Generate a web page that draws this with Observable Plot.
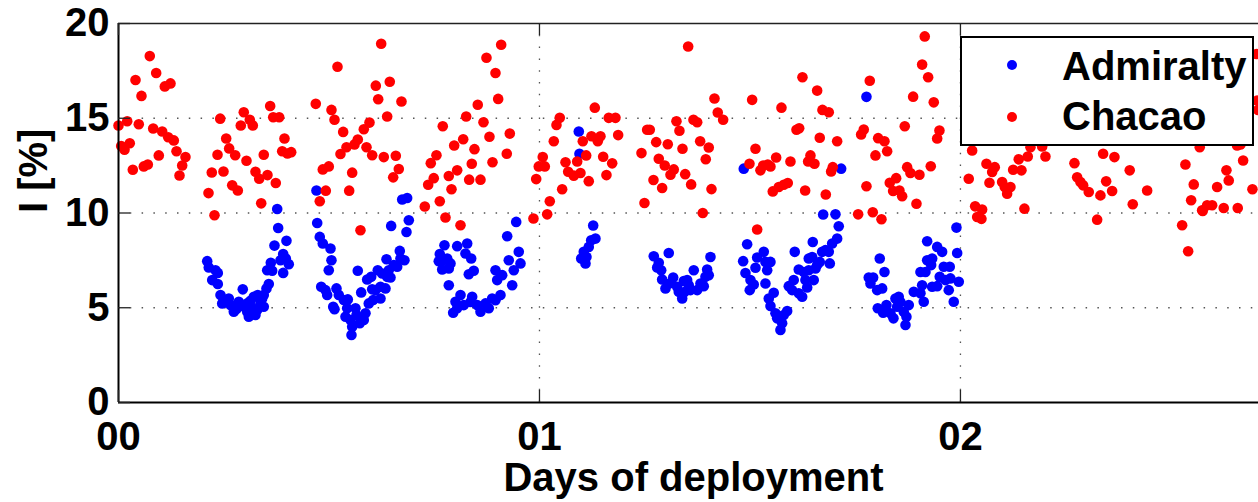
<!DOCTYPE html>
<html>
<head>
<meta charset="utf-8">
<script src="https://cdn.jsdelivr.net/npm/d3@7"></script>
<script src="https://cdn.jsdelivr.net/npm/@observablehq/plot@0.6"></script>
<style>
  html, body { margin: 0; padding: 0; background: #fff; }
  #wrap { position: relative; width: 1258px; height: 502px; overflow: hidden; }
  .legend {
    position: absolute; left: 960px; top: 36px; width: 294px; height: 110px;
    box-sizing: border-box; border: 2px solid #000; background: #fff;
    font-family: "Liberation Sans", Arial, Helvetica, sans-serif; font-weight: bold; font-size: 40px; color: #000;
  }
  .legend .mk { position: absolute; left: 45px; width: 10px; height: 10px; border-radius: 50%; }
  .legend .lb { position: absolute; left: 100px; height: 40px; line-height: 40px; white-space: nowrap; }
</style>
</head>
<body>
<div id="wrap"></div>
<script>
// Intensity I [%] per station against days of deployment
const admiraltyDay = [
  0.377,0.3793,0.399,0.3705,0.3912,0.3974,0.4045,0.3848,0.3912,0.3618,0.3651,0.3532,0.357,0.3515,0.3451,
  0.2107,0.2145,0.2304,0.2359,0.2226,0.2359,0.2423,0.2463,0.262,0.266,0.2739,0.2952,0.2857,0.2938,0.3057,
  0.3135,0.3214,0.3309,0.3413,0.3373,0.3057,0.3095,0.3254,0.3295,0.3451,0.2542,0.2803,0.3183,
  0.4703,0.472,0.4781,0.4853,0.5036,0.5059,0.4995,0.4815,0.4917,0.4957,0.5178,0.5233,0.51,0.5131,0.5352,
  0.5447,0.5432,0.5392,0.5511,0.5551,0.5534,0.5629,0.5732,0.5827,0.5867,0.5653,0.5684,0.5765,0.5907,0.6002,
  0.6026,0.6105,0.6223,0.6159,0.6264,0.6342,0.5945,0.605,0.6223,0.6382,0.6461,0.642,0.6366,0.6539,0.662,
  0.6682,0.6698,0.6793,0.6477,0.6841,0.6896,0.6739,0.6857,
  0.7743,0.7632,0.7608,0.7713,0.7808,0.7886,0.7846,0.7689,0.8045,0.8283,0.8242,0.8378,0.8439,0.8321,
  0.7846,0.8124,0.8005,0.8045,0.795,0.8202,0.8401,0.852,0.8599,0.8717,0.8796,0.8876,0.8955,0.9074,0.8995,
  0.9114,0.9271,0.939,0.9508,0.9549,0.9352,0.9233,0.9447,0.8361,0.8955,
  1.0934,1.095,1.1276,1.133,1.1228,1.1171,1.1052,1.1116,1.0991,1.1093,
  1.2715,1.2834,1.2796,1.2891,1.2914,1.2993,1.3071,1.3176,1.3271,1.339,1.3428,1.3546,1.3665,1.3746,1.3824,
  1.3903,1.3943,1.3983,1.4021,1.4062,1.3508,1.3309,1.3587,1.3112,1.3444,
  1.4853,1.4933,1.4838,1.4893,1.5012,1.4995,1.509,1.5171,1.5131,1.5328,1.5368,1.5487,1.5409,1.5368,1.5565,
  1.5447,1.5487,1.5606,1.5646,1.5724,1.5765,1.5884,1.5803,1.5922,1.604,1.6002,1.6159,1.624,1.6359,1.6318,
  1.6515,1.6159,1.6278,1.6397,1.6556,1.6477,1.6397,1.6596,1.6658,1.6715,1.6872,1.6896,1.6952,1.7071,1.7109,
  1.6739,1.7031,1.6064,1.6492,1.6793,1.7166,1.7767,
  1.8083,1.8195,1.7822,1.7926,1.7862,1.8022,1.814,1.8036,1.8164,1.8337,1.8456,1.8534,1.8496,1.8653,1.8717,
  1.8694,1.8772,1.8891,1.905,1.9128,1.909,1.905,1.9169,1.9209,1.9304,1.9328,1.9209,1.9447,1.9565,1.9604,
  1.9746,1.9508,1.9644,1.9762,1.9328,1.9447,1.9841,1.996,1.9922,1.9905,1.9722,1.8242,1.8575,1.8409
];
const admiraltyPct = [
  10.21,9.21,8.53,8.28,7.83,7.6,7.3,7.51,6.84,7.37,6.95,6.98,6.25,6.02,5.67,
  7.46,7.13,6.98,6.84,6.46,6.25,5.67,5.23,5.49,5.14,4.79,5.97,5.32,5.09,5.23,
  5.37,5.58,5.67,5.49,5.23,4.79,4.53,4.62,4.88,5.05,5.41,4.93,4.98,
  11.19,9.47,8.74,8.39,8.13,7.51,6.98,6.11,5.93,5.67,6.02,5.67,5.05,4.92,5.41,
  5.44,4.97,4.53,4.35,4.0,3.56,4.97,4.18,4.35,4.71,4.62,6.95,5.81,6.49,6.63,
  5.97,5.93,6.11,6.98,6.81,6.02,5.23,5.41,5.49,6.63,6.6,6.98,7.56,7.25,7.16,
  8.0,7.6,7.51,9.32,9.0,9.62,10.71,10.79,
  8.3,7.83,7.46,7.51,7.6,7.34,7.07,7.02,8.25,8.39,7.86,7.6,6.95,6.77,
  6.19,5.67,5.32,4.97,4.74,5.14,5.58,5.14,4.79,5.23,4.97,5.49,6.98,5.67,6.46,
  6.72,7.51,6.98,7.95,7.34,6.19,8.77,9.53,5.3,5.4,
  14.3,13.13,9.34,8.65,8.56,8.21,7.95,7.68,7.6,7.34,
  7.72,7.37,7.13,6.98,6.49,6.02,7.89,6.6,6.11,5.49,6.41,6.19,6.98,5.93,6.28,
  6.14,6.63,7.02,6.72,7.68,6.46,5.84,5.93,6.3,5.83,
  12.34,8.35,7.46,6.83,6.46,5.93,6.23,7.65,7.11,7.95,7.42,7.42,6.98,6.28,5.79,
  5.49,5.09,4.71,4.44,3.83,4.18,4.83,4.62,6.14,6.46,5.93,5.76,5.58,6.07,6.46,
  6.46,7.02,6.89,6.98,7.07,7.68,7.6,7.25,7.42,7.95,7.95,7.34,8.39,8.65,9.3,
  9.92,9.93,7.95,8.47,8.04,12.34,16.13,
  7.6,6.89,6.6,6.6,6.28,5.93,6.02,4.97,4.74,4.71,5.49,5.58,5.05,4.79,4.53,
  4.09,5.14,5.84,5.76,5.32,6.19,6.89,6.89,7.51,7.25,7.6,8.51,8.21,7.95,7.16,
  7.16,6.63,6.46,6.55,6.11,6.14,5.32,6.37,7.89,9.23,5.93,5.14,5.3,4.44
];
const chacaoDay = [
  0.0743,0.0895,0.0404,0.110,0.1235,0.0546,0.0,0.0207,0.0482,0.0064,0.0143,0.0268,
  0.0824,0.1038,0.1181,0.1314,0.1378,0.1591,0.1513,0.0957,0.034,0.0601,0.0696,0.1449,
  0.2416,0.2558,0.2629,0.2772,0.2352,0.2976,0.3119,0.319,0.2905,0.3603,0.3675,0.3817,0.3943,0.3888,0.4102,
  0.4014,0.3451,0.304,0.2216,0.2494,0.3254,0.3342,0.3539,0.3736,0.2701,0.2834,0.2138,0.339,0.228,0.4686,
  0.4853,0.4995,0.5551,0.4924,0.4781,0.548,
  0.5202,0.624,0.6112,0.6169,0.6444,0.6722,0.6382,0.5059,0.5131,0.5337,0.5827,0.5962,0.5684,0.5606,0.5416,
  0.5273,0.5891,0.6026,0.6302,0.6587,0.6658,0.6525,
  0.909,0.8741,0.8955,0.9019,0.8534,0.8259,0.867,0.7703,0.8812,0.9295,0.8188,0.7974,0.8456,0.7553,0.7418,
  0.8392,0.8884,0.9223,0.8045,0.7846,0.7489,0.7356,0.791,0.833,0.8599,0.7632,0.7276,0.7767,
  1.0078,0.9983,1.0126,0.9922,1.0245,1.0183,0.9857,0.5748,0.8124,
  1.3532,1.4157,1.4235,1.4363,1.5052,1.5131,1.4988,1.5249,1.1314,1.0482,1.0404,1.034,
  1.1646,1.1805,1.1869,1.1235,1.1449,1.1385,1.1029,1.1109,1.0896,1.0618,1.1513,1.1727,1.1591,1.0682,1.0815,
  1.0974,1.0539,1.1171,
  1.2558,1.2620,1.2772,1.3048,1.2423,1.2834,1.2976,1.319,1.3112,1.2708,1.2914,1.2494,1.3254,1.3325,1.3658,
  1.3746,1.3817,1.4021,1.3397,1.395,1.3461,1.3603,1.4086,1.3879,1.5171,
  1.9152,1.909,1.9233,1.8876,1.9366,1.9501,1.9447,1.8677,1.7846,1.7703,1.7641,1.8045,1.8195,1.8259,1.7981,
  1.6247,1.6596,1.6722,1.6872,1.6169,1.6105,1.6658,1.7071,1.5748,1.5622,1.5962,1.6437,1.6382,1.6532,1.5314,
  1.5423,1.5487,1.6967,1.6928,1.8734,1.8812,1.9026,1.9295,1.8473,1.8321,1.8401,1.8551,1.8615,1.8955,1.7767,
  1.5542,1.5684,1.5803,1.5898,1.6311,1.6801,1.757,1.7917,1.8124,2.0278,2.0197,2.0349,2.0397,
  2.7031,2.7048,2.7071,2.0618,2.0815,2.0753,2.0689,2.099,2.1052,2.1188,2.1109,2.1252,2.1449,2.1385,2.1599,
  2.1663,2.1941,2.2019,2.152,2.0515,
  2.2708,2.2772,2.285,2.2914,2.3048,2.3325,2.3389,2.3658,2.3461,2.3603,2.4021,2.4435,2.4093,2.3247,
  2.5344,2.5542,2.5684,2.548,2.5741,2.586,2.5979,2.6097,2.6254,2.6318,2.6373,2.6587,2.6715,2.6936,2.6572,2.6651,
  2.0499,2.5266,2.5409,2.5755
];
const chacaoPct = [
  18.28,17.39,17.02,16.68,16.84,16.18,14.62,14.84,14.68,13.53,13.34,13.68,
  14.46,14.30,14.0,13.83,13.26,12.95,12.51,13.04,12.28,12.46,12.56,11.98,
  14.98,13.93,13.41,13.05,13.07,15.32,14.92,14.62,14.62,15.65,15.05,15.05,13.93,13.26,13.21,
  13.14,13.07,12.76,12.14,12.19,12.18,11.81,12.0,11.58,11.46,11.19,11.05,10.51,9.88,15.76,
  12.3,12.46,12.13,11.18,10.62,11.18,
  17.72,18.93,16.72,16.0,16.93,15.88,15.09,15.44,14.92,14.28,14.42,14.77,13.88,13.62,13.47,
  13.11,13.47,13.05,12.95,13.02,12.32,11.88,
  18.88,18.19,17.39,16.02,15.71,15.09,14.79,14.58,14.02,14.19,13.89,13.56,13.37,13.05,12.63,
  12.6,12.68,13.13,12.25,11.95,11.84,11.49,11.25,11.76,11.76,10.62,10.34,9.76,
  12.95,12.46,12.46,11.79,10.62,9.93,9.71,9.09,9.35,
  18.79,16.04,15.3,14.92,15.97,13.39,12.6,12.25,15.56,15.02,14.65,13.79,
  15.02,15.02,14.11,14.05,14.05,13.79,13.79,13.04,12.72,12.68,12.97,12.62,12.0,12.18,11.97,
  12.11,11.25,11.68,
  14.39,14.39,13.74,13.63,13.16,12.86,12.51,12.3,12.02,11.74,11.32,10.53,14.84,14.34,14.92,
  14.79,13.79,13.46,13.39,12.84,12.05,11.51,11.26,10.0,9.13,
  19.32,17.83,17.16,16.14,15.84,14.35,13.93,14.58,16.98,14.41,14.14,13.95,13.79,13.26,13.04,
  17.16,16.46,15.44,15.32,14.47,14.39,13.97,13.79,15.56,12.93,12.72,13.04,12.72,12.6,12.51,
  12.56,12.46,12.42,12.19,12.42,12.11,12.02,12.47,11.84,11.6,11.16,11.19,10.88,10.49,11.41,
  11.14,11.37,11.49,11.58,11.19,10.98,9.93,10.04,9.67,13.3,11.81,10.35,9.79,
  18.39,15.93,15.44,12.6,12.42,12.16,11.6,11.63,11.37,11.37,11.02,12.28,12.25,12.83,12.98,
  13.47,13.51,12.98,10.23,10.18,
  12.63,11.89,11.63,11.46,11.11,10.93,13.13,12.95,11.67,11.16,12.25,11.19,10.46,9.65,
  12.56,11.51,13.47,10.67,10.14,10.41,10.41,11.37,10.26,12.25,11.72,10.26,12.77,11.25,13.56,13.62,
  9.69,9.35,7.98,10.11
];

const xTicks = [0, 1, 2];
const xTickLabels = ["00", "01", "02"];
const yTicks = [0, 5, 10, 15, 20];
const xGrid = [1, 2];
const yGrid = [5, 10, 15];
const xMax = 2.708;
const xLabel = "Days of deployment";
const yLabel = "I [%]";
const series = [
  {name: "Admiralty", color: "#0000ff"},
  {name: "Chacao", color: "#ff0000"}
];

const admiralty = admiraltyDay.map((d, i) => ({day: d, pct: admiraltyPct[i]}));
const chacao = chacaoDay.map((d, i) => ({day: d, pct: chacaoPct[i]}));

const W = 1258, H = 502, mL = 118, mR = 0, mT = 23, mB = 100;
const innerW = W - mL - mR, innerH = H - mT - mB;
const tickLen = 12;
const font = "'Liberation Sans', Arial, Helvetica, sans-serif";
const fs = 40;
const dotted = {stroke: "#555", strokeWidth: 1.3, strokeDasharray: "1.5,10.3"};

const chart = Plot.plot({
  width: W, height: H,
  marginLeft: mL, marginRight: mR, marginTop: mT, marginBottom: mB,
  style: {fontFamily: font, fontWeight: "bold", fontSize: fs + "px", color: "#000", background: "#fff"},
  x: {domain: [0, xMax], axis: null},
  y: {domain: [0, 20], axis: null},
  marks: [
    Plot.ruleY(yGrid, dotted),
    Plot.ruleX(xGrid, dotted),
    Plot.dot(admiralty, {x: "day", y: "pct", r: 5.3, fill: series[0].color, stroke: null}),
    Plot.dot(chacao, {x: "day", y: "pct", r: 5.3, fill: series[1].color, stroke: null}),
    // axes box (left, bottom, top)
    Plot.ruleY([0], {stroke: "#000", strokeWidth: 2}),
    Plot.ruleY([20], {stroke: "#222", strokeWidth: 1.6}),
    Plot.ruleX([0], {stroke: "#000", strokeWidth: 2}),
    // inward tick marks
    Plot.tickX(xTicks, {x: d => d, insetTop: innerH - tickLen, stroke: "#222", strokeWidth: 1.3}),
    Plot.tickX(xTicks, {x: d => d, insetBottom: innerH - tickLen, stroke: "#222", strokeWidth: 1.3}),
    Plot.tickY(yTicks, {y: d => d, insetRight: innerW - tickLen, stroke: "#222", strokeWidth: 1.3}),
    Plot.axisX(xTicks, {
      tickFormat: d => xTickLabels[xTicks.indexOf(d)],
      tickSize: 0, tickPadding: 19, label: null,
      fontSize: fs, fontWeight: "bold", fontFamily: font
    }),
    Plot.axisY(yTicks, {
      tickSize: 0, tickPadding: 9, label: null,
      fontSize: fs, fontWeight: "bold", fontFamily: font
    }),
    Plot.text([xLabel], {
      text: d => d, frameAnchor: "bottom", dy: 76, dx: 5, lineAnchor: "middle",
      fontSize: fs, fontWeight: "bold", fontFamily: font, fill: "#000"
    }),
    Plot.text([yLabel], {
      text: d => d, frameAnchor: "left", dx: -84, rotate: -90, lineAnchor: "middle",
      fontSize: fs, fontWeight: "bold", fontFamily: font, fill: "#000"
    })
  ]
});

const wrap = document.getElementById("wrap");
wrap.appendChild(chart);

// legend box in the upper right corner of the axes
const legend = document.createElement("div");
legend.className = "legend";
series.forEach((s, i) => {
  const mk = document.createElement("span");
  mk.className = "mk";
  mk.style.top = (22 + i * 51.7) + "px";
  mk.style.background = s.color;
  const lb = document.createElement("span");
  lb.className = "lb";
  lb.style.top = (8 + i * 50) + "px";
  lb.textContent = s.name;
  legend.appendChild(mk);
  legend.appendChild(lb);
});
wrap.appendChild(legend);
</script>
</body>
</html>
